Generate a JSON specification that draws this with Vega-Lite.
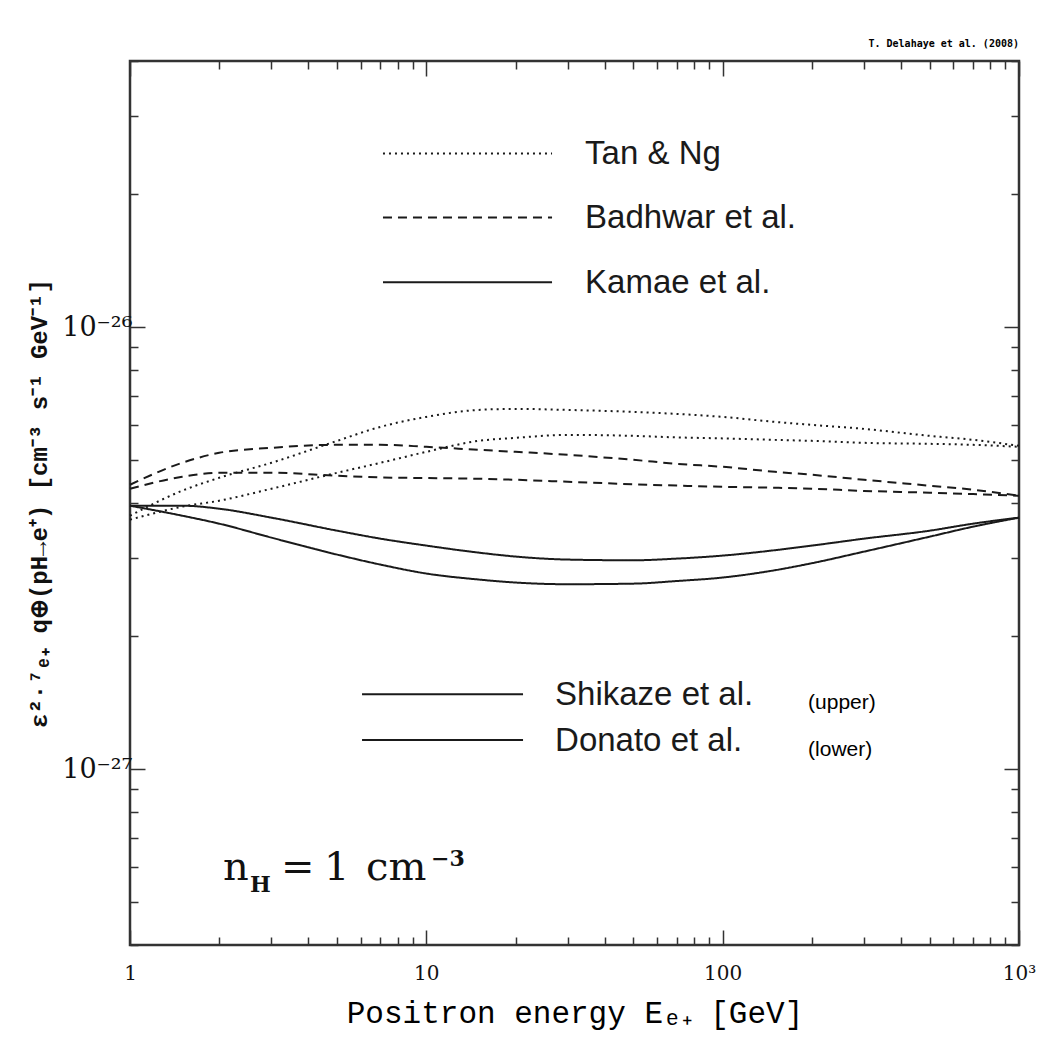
{
  "$schema": "https://vega.github.io/schema/vega-lite/v6.json",
  "width": 889,
  "height": 884,
  "autosize": {"type": "none"},
  "padding": {"left": 130, "top": 61, "right": 33, "bottom": 109},
  "background": "white",
  "title": {"text": "T. Delahaye et al. (2008)", "anchor": "end", "frame": "group", "font": "DejaVu Sans Mono", "fontWeight": "bold", "fontSize": 10, "offset": -2, "color": "#000"},
  "config": {
    "view": {"stroke": "#333", "strokeWidth": 2.5},
    "axis": {"domain": false, "grid": false, "labelFont": "DejaVu Serif", "labelFontSize": 20, "labelColor": "#111", "tickColor": "#333", "tickWidth": 1.5, "titleFont": "Liberation Mono", "titleFontWeight": "bold", "titleColor": "#111"}
  },
  "datasets": {
    "curves": [
      {"model": "Kamae et al.", "flux": "Shikaze", "E": 1, "q": 3.944e-27},
      {"model": "Kamae et al.", "flux": "Shikaze", "E": 1.5, "q": 3.944e-27},
      {"model": "Kamae et al.", "flux": "Shikaze", "E": 2, "q": 3.883e-27},
      {"model": "Kamae et al.", "flux": "Shikaze", "E": 3, "q": 3.706e-27},
      {"model": "Kamae et al.", "flux": "Shikaze", "E": 5, "q": 3.463e-27},
      {"model": "Kamae et al.", "flux": "Shikaze", "E": 7, "q": 3.322e-27},
      {"model": "Kamae et al.", "flux": "Shikaze", "E": 10, "q": 3.204e-27},
      {"model": "Kamae et al.", "flux": "Shikaze", "E": 15, "q": 3.089e-27},
      {"model": "Kamae et al.", "flux": "Shikaze", "E": 20, "q": 3.026e-27},
      {"model": "Kamae et al.", "flux": "Shikaze", "E": 30, "q": 2.979e-27},
      {"model": "Kamae et al.", "flux": "Shikaze", "E": 50, "q": 2.968e-27},
      {"model": "Kamae et al.", "flux": "Shikaze", "E": 70, "q": 2.994e-27},
      {"model": "Kamae et al.", "flux": "Shikaze", "E": 100, "q": 3.041e-27},
      {"model": "Kamae et al.", "flux": "Shikaze", "E": 150, "q": 3.128e-27},
      {"model": "Kamae et al.", "flux": "Shikaze", "E": 200, "q": 3.204e-27},
      {"model": "Kamae et al.", "flux": "Shikaze", "E": 300, "q": 3.322e-27},
      {"model": "Kamae et al.", "flux": "Shikaze", "E": 500, "q": 3.463e-27},
      {"model": "Kamae et al.", "flux": "Shikaze", "E": 700, "q": 3.592e-27},
      {"model": "Kamae et al.", "flux": "Shikaze", "E": 1000, "q": 3.706e-27},
      {"model": "Kamae et al.", "flux": "Donato", "E": 1, "q": 3.944e-27},
      {"model": "Kamae et al.", "flux": "Donato", "E": 1.5, "q": 3.744e-27},
      {"model": "Kamae et al.", "flux": "Donato", "E": 2, "q": 3.592e-27},
      {"model": "Kamae et al.", "flux": "Donato", "E": 3, "q": 3.340e-27},
      {"model": "Kamae et al.", "flux": "Donato", "E": 5, "q": 3.057e-27},
      {"model": "Kamae et al.", "flux": "Donato", "E": 7, "q": 2.902e-27},
      {"model": "Kamae et al.", "flux": "Donato", "E": 10, "q": 2.770e-27},
      {"model": "Kamae et al.", "flux": "Donato", "E": 15, "q": 2.685e-27},
      {"model": "Kamae et al.", "flux": "Donato", "E": 20, "q": 2.643e-27},
      {"model": "Kamae et al.", "flux": "Donato", "E": 30, "q": 2.620e-27},
      {"model": "Kamae et al.", "flux": "Donato", "E": 50, "q": 2.628e-27},
      {"model": "Kamae et al.", "flux": "Donato", "E": 70, "q": 2.664e-27},
      {"model": "Kamae et al.", "flux": "Donato", "E": 100, "q": 2.713e-27},
      {"model": "Kamae et al.", "flux": "Donato", "E": 150, "q": 2.818e-27},
      {"model": "Kamae et al.", "flux": "Donato", "E": 200, "q": 2.923e-27},
      {"model": "Kamae et al.", "flux": "Donato", "E": 300, "q": 3.105e-27},
      {"model": "Kamae et al.", "flux": "Donato", "E": 500, "q": 3.357e-27},
      {"model": "Kamae et al.", "flux": "Donato", "E": 700, "q": 3.536e-27},
      {"model": "Kamae et al.", "flux": "Donato", "E": 1000, "q": 3.706e-27},
      {"model": "Tan & Ng", "flux": "Shikaze", "E": 1, "q": 3.744e-27},
      {"model": "Tan & Ng", "flux": "Shikaze", "E": 1.5, "q": 4.264e-27},
      {"model": "Tan & Ng", "flux": "Shikaze", "E": 2, "q": 4.562e-27},
      {"model": "Tan & Ng", "flux": "Shikaze", "E": 3, "q": 4.932e-27},
      {"model": "Tan & Ng", "flux": "Shikaze", "E": 5, "q": 5.529e-27},
      {"model": "Tan & Ng", "flux": "Shikaze", "E": 7, "q": 5.947e-27},
      {"model": "Tan & Ng", "flux": "Shikaze", "E": 10, "q": 6.264e-27},
      {"model": "Tan & Ng", "flux": "Shikaze", "E": 15, "q": 6.496e-27},
      {"model": "Tan & Ng", "flux": "Shikaze", "E": 20, "q": 6.530e-27},
      {"model": "Tan & Ng", "flux": "Shikaze", "E": 30, "q": 6.496e-27},
      {"model": "Tan & Ng", "flux": "Shikaze", "E": 50, "q": 6.429e-27},
      {"model": "Tan & Ng", "flux": "Shikaze", "E": 70, "q": 6.362e-27},
      {"model": "Tan & Ng", "flux": "Shikaze", "E": 100, "q": 6.264e-27},
      {"model": "Tan & Ng", "flux": "Shikaze", "E": 150, "q": 6.103e-27},
      {"model": "Tan & Ng", "flux": "Shikaze", "E": 200, "q": 6.009e-27},
      {"model": "Tan & Ng", "flux": "Shikaze", "E": 300, "q": 5.885e-27},
      {"model": "Tan & Ng", "flux": "Shikaze", "E": 500, "q": 5.675e-27},
      {"model": "Tan & Ng", "flux": "Shikaze", "E": 700, "q": 5.558e-27},
      {"model": "Tan & Ng", "flux": "Shikaze", "E": 1000, "q": 5.388e-27},
      {"model": "Tan & Ng", "flux": "Donato", "E": 1, "q": 3.667e-27},
      {"model": "Tan & Ng", "flux": "Donato", "E": 1.5, "q": 3.924e-27},
      {"model": "Tan & Ng", "flux": "Donato", "E": 2, "q": 4.048e-27},
      {"model": "Tan & Ng", "flux": "Donato", "E": 3, "q": 4.308e-27},
      {"model": "Tan & Ng", "flux": "Donato", "E": 5, "q": 4.682e-27},
      {"model": "Tan & Ng", "flux": "Donato", "E": 7, "q": 4.932e-27},
      {"model": "Tan & Ng", "flux": "Donato", "E": 10, "q": 5.222e-27},
      {"model": "Tan & Ng", "flux": "Donato", "E": 15, "q": 5.529e-27},
      {"model": "Tan & Ng", "flux": "Donato", "E": 20, "q": 5.616e-27},
      {"model": "Tan & Ng", "flux": "Donato", "E": 30, "q": 5.704e-27},
      {"model": "Tan & Ng", "flux": "Donato", "E": 50, "q": 5.675e-27},
      {"model": "Tan & Ng", "flux": "Donato", "E": 70, "q": 5.630e-27},
      {"model": "Tan & Ng", "flux": "Donato", "E": 100, "q": 5.600e-27},
      {"model": "Tan & Ng", "flux": "Donato", "E": 150, "q": 5.558e-27},
      {"model": "Tan & Ng", "flux": "Donato", "E": 200, "q": 5.529e-27},
      {"model": "Tan & Ng", "flux": "Donato", "E": 300, "q": 5.472e-27},
      {"model": "Tan & Ng", "flux": "Donato", "E": 500, "q": 5.444e-27},
      {"model": "Tan & Ng", "flux": "Donato", "E": 700, "q": 5.416e-27},
      {"model": "Tan & Ng", "flux": "Donato", "E": 1000, "q": 5.360e-27},
      {"model": "Badhwar et al.", "flux": "Shikaze", "E": 1, "q": 4.399e-27},
      {"model": "Badhwar et al.", "flux": "Shikaze", "E": 1.5, "q": 4.932e-27},
      {"model": "Badhwar et al.", "flux": "Shikaze", "E": 2, "q": 5.195e-27},
      {"model": "Badhwar et al.", "flux": "Shikaze", "E": 3, "q": 5.332e-27},
      {"model": "Badhwar et al.", "flux": "Shikaze", "E": 5, "q": 5.416e-27},
      {"model": "Badhwar et al.", "flux": "Shikaze", "E": 7, "q": 5.416e-27},
      {"model": "Badhwar et al.", "flux": "Shikaze", "E": 10, "q": 5.360e-27},
      {"model": "Badhwar et al.", "flux": "Shikaze", "E": 15, "q": 5.277e-27},
      {"model": "Badhwar et al.", "flux": "Shikaze", "E": 20, "q": 5.222e-27},
      {"model": "Badhwar et al.", "flux": "Shikaze", "E": 30, "q": 5.141e-27},
      {"model": "Badhwar et al.", "flux": "Shikaze", "E": 50, "q": 5.009e-27},
      {"model": "Badhwar et al.", "flux": "Shikaze", "E": 70, "q": 4.906e-27},
      {"model": "Badhwar et al.", "flux": "Shikaze", "E": 100, "q": 4.830e-27},
      {"model": "Badhwar et al.", "flux": "Shikaze", "E": 150, "q": 4.706e-27},
      {"model": "Badhwar et al.", "flux": "Shikaze", "E": 200, "q": 4.634e-27},
      {"model": "Badhwar et al.", "flux": "Shikaze", "E": 300, "q": 4.515e-27},
      {"model": "Badhwar et al.", "flux": "Shikaze", "E": 500, "q": 4.376e-27},
      {"model": "Badhwar et al.", "flux": "Shikaze", "E": 700, "q": 4.286e-27},
      {"model": "Badhwar et al.", "flux": "Shikaze", "E": 1000, "q": 4.154e-27},
      {"model": "Badhwar et al.", "flux": "Donato", "E": 1, "q": 4.308e-27},
      {"model": "Badhwar et al.", "flux": "Donato", "E": 1.5, "q": 4.586e-27},
      {"model": "Badhwar et al.", "flux": "Donato", "E": 2, "q": 4.682e-27},
      {"model": "Badhwar et al.", "flux": "Donato", "E": 3, "q": 4.682e-27},
      {"model": "Badhwar et al.", "flux": "Donato", "E": 5, "q": 4.610e-27},
      {"model": "Badhwar et al.", "flux": "Donato", "E": 7, "q": 4.570e-27},
      {"model": "Badhwar et al.", "flux": "Donato", "E": 10, "q": 4.555e-27},
      {"model": "Badhwar et al.", "flux": "Donato", "E": 15, "q": 4.538e-27},
      {"model": "Badhwar et al.", "flux": "Donato", "E": 20, "q": 4.515e-27},
      {"model": "Badhwar et al.", "flux": "Donato", "E": 30, "q": 4.468e-27},
      {"model": "Badhwar et al.", "flux": "Donato", "E": 50, "q": 4.410e-27},
      {"model": "Badhwar et al.", "flux": "Donato", "E": 70, "q": 4.380e-27},
      {"model": "Badhwar et al.", "flux": "Donato", "E": 100, "q": 4.353e-27},
      {"model": "Badhwar et al.", "flux": "Donato", "E": 150, "q": 4.331e-27},
      {"model": "Badhwar et al.", "flux": "Donato", "E": 200, "q": 4.308e-27},
      {"model": "Badhwar et al.", "flux": "Donato", "E": 300, "q": 4.260e-27},
      {"model": "Badhwar et al.", "flux": "Donato", "E": 500, "q": 4.220e-27},
      {"model": "Badhwar et al.", "flux": "Donato", "E": 700, "q": 4.190e-27},
      {"model": "Badhwar et al.", "flux": "Donato", "E": 1000, "q": 4.154e-27}
    ],
    "legendModel": [
      {"model": "Tan & Ng", "x1": 7.14, "x2": 26.56, "y": 2.471e-26},
      {"model": "Badhwar et al.", "x1": 7.14, "x2": 26.56, "y": 1.771e-26},
      {"model": "Kamae et al.", "x1": 7.14, "x2": 26.56, "y": 1.264e-26}
    ],
    "legendFlux": [
      {"flux": "Shikaze", "x1": 6.068, "x2": 21.2, "y": 1.476e-27},
      {"flux": "Donato", "x1": 6.068, "x2": 21.2, "y": 1.163e-27}
    ],
    "legendText": [
      {"label": "Tan & Ng", "kind": "main", "x": 34.33, "y": 2.471e-26},
      {"label": "Badhwar et al.", "kind": "main", "x": 34.33, "y": 1.771e-26},
      {"label": "Kamae et al.", "kind": "main", "x": 34.33, "y": 1.264e-26},
      {"label": "Shikaze et al.", "kind": "main", "x": 27.19, "y": 1.476e-27},
      {"label": "Donato et al.", "kind": "main", "x": 27.19, "y": 1.163e-27},
      {"label": "(upper)", "kind": "note", "x": 194.2, "y": 1.409e-27},
      {"label": "(lower)", "kind": "note", "x": 194.2, "y": 1.104e-27}
    ],
    "density": [
      {"t": "n", "kind": "big", "x": 2.06, "y": 5.615e-28},
      {"t": "H", "kind": "small", "x": 2.541, "y": 5.275e-28},
      {"t": "=", "kind": "big", "x": 3.233, "y": 5.615e-28},
      {"t": "1", "kind": "big", "x": 4.515, "y": 5.615e-28},
      {"t": "cm", "kind": "big", "x": 6.258, "y": 5.615e-28},
      {"t": "−3", "kind": "small", "x": 10.37, "y": 6.04e-28}
    ]
  },
  "layer": [
    {
      "data": {"name": "curves"},
      "mark": {"type": "line", "color": "#1a1a1a", "strokeWidth": 2, "interpolate": "monotone"},
      "encoding": {
        "x": {"field": "E", "type": "quantitative",
          "scale": {"type": "log", "domain": [1, 1000], "nice": false},
          "axis": {"orient": "bottom", "values": [1,2,3,4,5,6,7,8,9,10,20,30,40,50,60,70,80,90,100,200,300,400,500,600,700,800,900,1000],
            "tickSize": {"condition": {"test": "abs(log(datum.value)/LN10 - round(log(datum.value)/LN10)) < 0.000001", "value": -15}, "value": -8},
            "labelExpr": "datum.value == 1 ? '1' : datum.value == 10 ? '10' : datum.value == 100 ? '100' : datum.value == 1000 ? '10³' : ''",
            "labelPadding": 33, "labelFlush": false, "labelOverlap": false,
            "title": "Positron energy Eₑ₊  [GeV]", "titleFontSize": 31, "titleFontWeight": "normal", "titleColor": "#000", "titlePadding": 8}},
        "y": {"field": "q", "type": "quantitative",
          "scale": {"type": "log", "domain": [4e-28, 4e-26], "nice": false},
          "axis": {"orient": "left", "values": [4e-28,5e-28,6e-28,7e-28,8e-28,9e-28,1e-27,2e-27,3e-27,4e-27,5e-27,6e-27,7e-27,8e-27,9e-27,1e-26,2e-26,3e-26,4e-26],
            "tickSize": {"condition": {"test": "abs(log(datum.value)/LN10 - round(log(datum.value)/LN10)) < 0.000001", "value": -15}, "value": -8},
            "labelExpr": "abs(log(datum.value)/LN10 + 26) < 0.000001 ? '10⁻²⁶' : abs(log(datum.value)/LN10 + 27) < 0.000001 ? '10⁻²⁷' : ''",
            "labelFontSize": 27, "labelPadding": 13, "labelFlush": false, "labelOverlap": false,
            "title": "ε²·⁷ₑ₊ q⊕(pH→e⁺)  [cm⁻³ s⁻¹ GeV⁻¹]", "titleFontSize": 24, "titlePadding": 10}},
        "strokeDash": {"field": "model", "type": "nominal",
          "scale": {"domain": ["Tan & Ng", "Badhwar et al.", "Kamae et al."], "range": [[2, 4], [9, 6], [1, 0]]},
          "legend": null},
        "detail": {"field": "flux", "type": "nominal"}
      }
    },
    {
      "data": {"name": "legendModel"},
      "mark": {"type": "rule", "color": "#1a1a1a", "strokeWidth": 2},
      "encoding": {
        "x": {"field": "x1", "type": "quantitative",
          "axis": {"orient": "top", "values": [1,2,3,4,5,6,7,8,9,10,20,30,40,50,60,70,80,90,100,200,300,400,500,600,700,800,900,1000],
            "tickSize": {"condition": {"test": "abs(log(datum.value)/LN10 - round(log(datum.value)/LN10)) < 0.000001", "value": -15}, "value": -8},
            "labels": false, "title": null}},
        "x2": {"field": "x2"},
        "y": {"field": "y", "type": "quantitative",
          "axis": {"orient": "right", "values": [4e-28,5e-28,6e-28,7e-28,8e-28,9e-28,1e-27,2e-27,3e-27,4e-27,5e-27,6e-27,7e-27,8e-27,9e-27,1e-26,2e-26,3e-26,4e-26],
            "tickSize": {"condition": {"test": "abs(log(datum.value)/LN10 - round(log(datum.value)/LN10)) < 0.000001", "value": -15}, "value": -8},
            "labels": false, "title": null}},
        "strokeDash": {"field": "model", "type": "nominal", "legend": null}
      }
    },
    {
      "data": {"name": "legendFlux"},
      "mark": {"type": "rule", "color": "#1a1a1a", "strokeWidth": 2},
      "encoding": {
        "x": {"field": "x1", "type": "quantitative", "axis": null},
        "x2": {"field": "x2"},
        "y": {"field": "y", "type": "quantitative", "axis": null}
      }
    },
    {
      "data": {"name": "legendText"},
      "transform": [{"filter": "datum.kind == 'main'"}],
      "mark": {"type": "text", "align": "left", "baseline": "middle", "font": "Liberation Sans", "fontSize": 33, "color": "#1a1a1a", "dy": 1},
      "encoding": {
        "x": {"field": "x", "type": "quantitative", "axis": null},
        "y": {"field": "y", "type": "quantitative", "axis": null},
        "text": {"field": "label"}
      }
    },
    {
      "data": {"name": "legendText"},
      "transform": [{"filter": "datum.kind == 'note'"}],
      "mark": {"type": "text", "align": "left", "baseline": "middle", "font": "Liberation Sans", "fontSize": 21, "color": "#000"},
      "encoding": {
        "x": {"field": "x", "type": "quantitative", "axis": null},
        "y": {"field": "y", "type": "quantitative", "axis": null},
        "text": {"field": "label"}
      }
    },
    {
      "data": {"name": "density"},
      "transform": [{"filter": "datum.kind == 'big'"}],
      "mark": {"type": "text", "align": "left", "baseline": "alphabetic", "font": "DejaVu Serif", "fontSize": 40, "color": "#111"},
      "encoding": {
        "x": {"field": "x", "type": "quantitative", "axis": null},
        "y": {"field": "y", "type": "quantitative", "axis": null},
        "text": {"field": "t"}
      }
    },
    {
      "data": {"name": "density"},
      "transform": [{"filter": "datum.kind == 'small'"}],
      "mark": {"type": "text", "align": "left", "baseline": "alphabetic", "font": "DejaVu Serif", "fontSize": 22, "fontWeight": "bold", "color": "#111"},
      "encoding": {
        "x": {"field": "x", "type": "quantitative", "axis": null},
        "y": {"field": "y", "type": "quantitative", "axis": null},
        "text": {"field": "t"}
      }
    }
  ],
  "resolve": {"axis": {"x": "independent", "y": "independent"}}
}
